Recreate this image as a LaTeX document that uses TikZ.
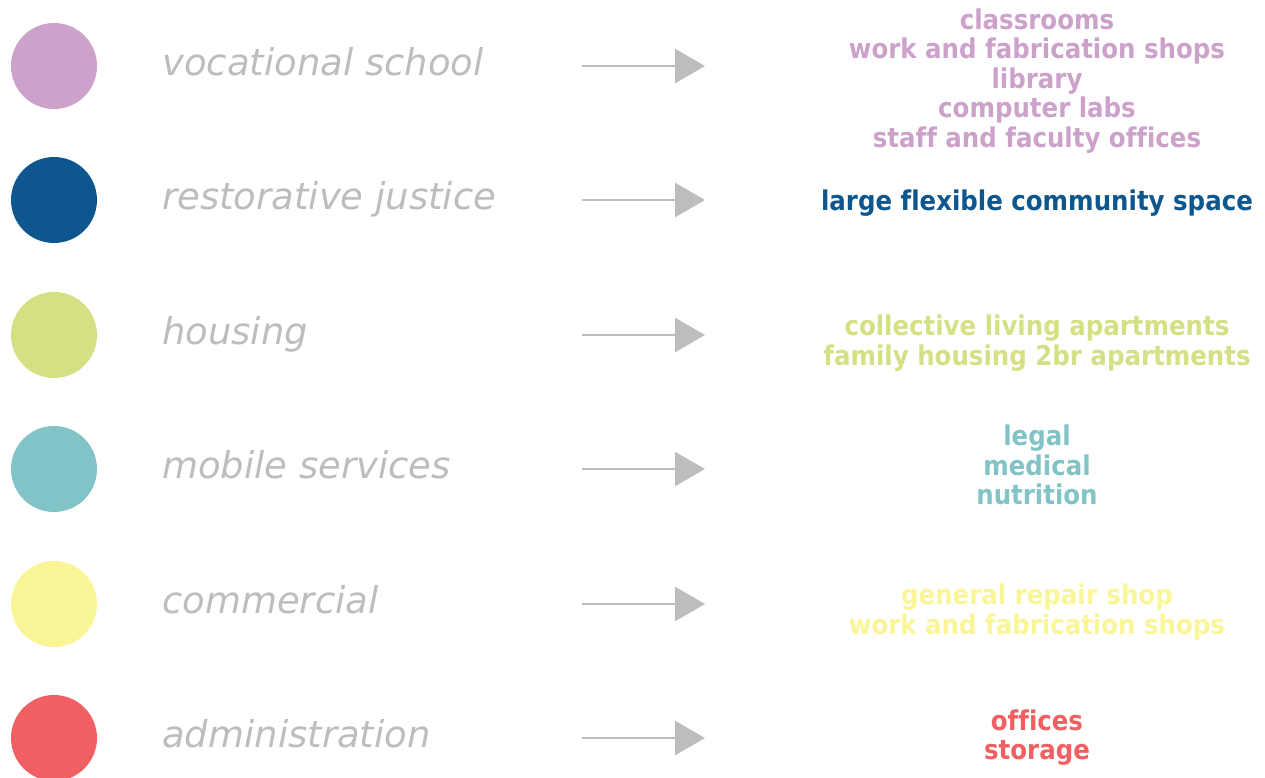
\documentclass[tikz,border=0pt]{standalone}
\usepackage{fontspec}
\setmainfont{DejaVu Sans}
\newfontfamily\labelfont{DejaVu Sans}
\newfontfamily\descfont[Ligatures={NoCommon}]{DejaVu Sans Condensed}
\usetikzlibrary{arrows.meta, positioning}
\definecolor{cPink}{HTML}{CCA1CA}
\definecolor{cBlue}{HTML}{0D568E}
\definecolor{cGreen}{HTML}{D5E085}
\definecolor{cTeal}{HTML}{82C3C7}
\definecolor{cYellow}{HTML}{FAF697}
\definecolor{cRed}{HTML}{F05F62}
\definecolor{cGrey}{HTML}{BDBDBD}

\begin{document}
\begin{tikzpicture}[x=0.75pt, y=-0.75pt,
      dot/.style={circle, minimum size=64.5pt, inner sep=0pt},
      usetext/.style={anchor=base west, text=cGrey, inner sep=0pt,
        font=\labelfont\itshape\fontsize{27.7}{30}\selectfont},
      desc/.style={align=center, inner sep=0pt,
        font=\descfont\bfseries\fontsize{20.4}{22.1}\selectfont},
      link/.style={draw=cGrey, line width=2pt,
        -{Triangle[length=22.5pt, width=25.5pt]}}]
    \useasboundingbox (0,0) rectangle (1265,778);
    \foreach \i/\y/\dy/\col/\txt/\items in {
        1/66/15/cPink/vocational school/{classrooms\\work and fabrication shops\\library\\computer labs\\staff and faculty offices},
        2/200/3/cBlue/restorative justice/{large flexible community space},
        3/335/8/cGreen/housing/{collective living apartments\\family housing 2br apartments},
        4/469/-4/cTeal/mobile services/{legal\\medical\\nutrition},
        5/604/8/cYellow/commercial/{general repair shop\\work and fabrication shops},
        6/738/-0.5/cRed/administration/{offices\\storage}} {
      \node[dot, fill=\col] (dot\i) at (54,\y) {};
      \node[usetext] (use\i) at (162,\y+9) {\txt};
      \coordinate (from\i) at (582,\y);
      \coordinate (to\i) at (705,\y);
      \draw[link] (from\i) -- (to\i);
      \node[desc, text=\col] (room\i) at (1037,\y+\dy) {\items};
    }
\end{tikzpicture}
\end{document}
